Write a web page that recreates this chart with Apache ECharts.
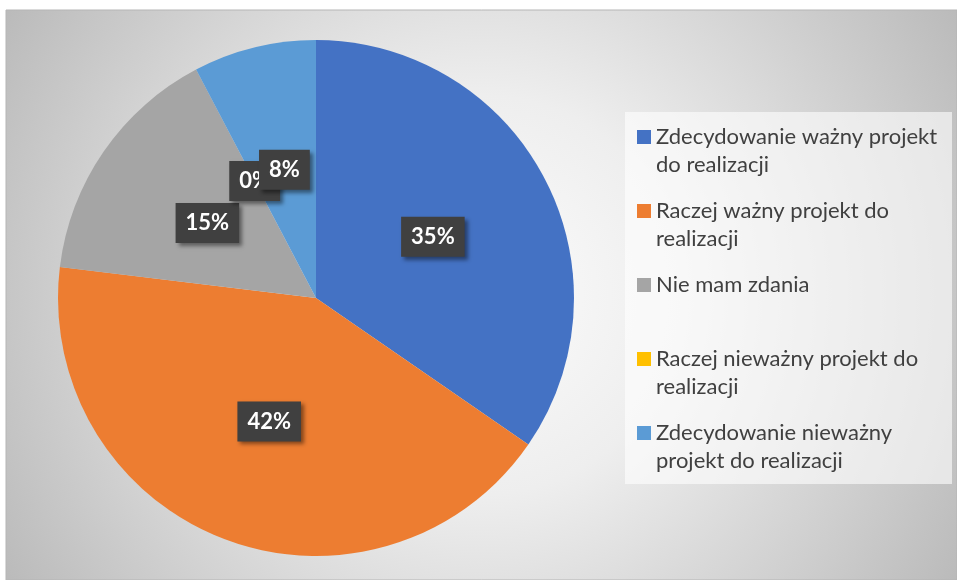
<!DOCTYPE html>
<html>
<head>
<meta charset="utf-8">
<title>pie</title>
<script src="https://cdn.jsdelivr.net/npm/echarts@6/dist/echarts.min.js"></script>
<style>
    html, body { margin:0; padding:0; background:#fff; }
    #pieChart { width:957px; height:580px; }
</style>
</head>
<body>
<div id="pieChart"></div>
<script>
    // answers (counts of responses), percent labels are computed by the pie
    var categories = [
        'Zdecydowanie ważny projekt do realizacji',
        'Raczej ważny projekt do realizacji',
        'Nie mam zdania',
        'Raczej nieważny projekt do realizacji',
        'Zdecydowanie nieważny projekt do realizacji'
    ]
    var values = [9, 11, 4, 0, 2]
    // how the legend wraps the names
    var legendLines = [
        ['Zdecydowanie ważny projekt', 'do realizacji'],
        ['Raczej ważny projekt do', 'realizacji'],
        ['Nie mam zdania', ' '],
        ['Raczej nieważny projekt do', 'realizacji'],
        ['Zdecydowanie nieważny', 'projekt do realizacji']
    ]
    var colors = ['#4472C4', '#ED7D31', '#A5A5A5', '#FFC000', '#5B9BD5']

    var font = 'Lato, "Open Sans", sans-serif'
    var myChart = echarts.init(document.getElementById('pieChart'))

    var seriesData = []
    categories.map(function(item, index){
        seriesData.push({
            name: item,
            value: values[index],
            itemStyle: { color: colors[index] }
        })
    })

    var option = {
        animation: false,
        graphic: [
            {
                type: 'rect',
                z: -10,
                shape: { x: 6, y: 10, width: 951, height: 570 },
                style: {
                    fill: {
                        type: 'radial', x: 0.5, y: 0.5, r: 1,
                        colorStops: [
                            { offset: 0, color: '#fcfcfc' },
                            { offset: 0.35, color: '#eeeeee' },
                            { offset: 1, color: '#b8b8b8' }
                        ]
                    },
                    stroke: '#b5b5b5',
                    lineWidth: 1
                }
            },
            {
                type: 'rect',
                z: -9,
                shape: { x: 625, y: 112, width: 327, height: 372 },
                style: { fill: 'rgba(255,255,255,0.6)' }
            }
        ],
        legend: {
            orient: 'vertical',
            left: 637,
            top: 126,
            padding: 0,
            itemWidth: 14,
            itemHeight: 14,
            itemGap: 24,
            icon: 'rect',
            itemStyle: { borderWidth: 0 },
            formatter: function(name){
                var lines = legendLines[categories.indexOf(name)]
                return '{t|' + lines[0] + '}\n{t|' + lines[1] + '}'
            },
            textStyle: {
                padding: [28, 0, 0, 0],
                rich: {
                    t: {
                        fontFamily: font,
                        fontSize: 22,
                        color: '#404040',
                        lineHeight: 28
                    }
                }
            },
            data: categories
        },
        series: [{
            type: 'pie',
            center: [316, 298],
            radius: 258,
            startAngle: 90,
            clockwise: true,
            avoidLabelOverlap: false,
            labelLayout: { hideOverlap: false },
            itemStyle: { borderWidth: 0 },
            emphasis: { disabled: true },
            label: {
                show: true,
                position: 'inside',
                formatter: function(p){
                    return Math.round(p.percent) + '%'
                },
                fontFamily: font,
                fontSize: 22,
                fontWeight: 'bold',
                color: '#ffffff',
                backgroundColor: '#404040',
                padding: [9, 10, 9, 10],
                shadowColor: 'rgba(0,0,0,0.45)',
                shadowBlur: 4,
                shadowOffsetX: 3,
                shadowOffsetY: 3
            },
            labelLine: { show: false },
            data: seriesData
        }]
    }
    myChart.setOption(option)
</script>
</body>
</html>
